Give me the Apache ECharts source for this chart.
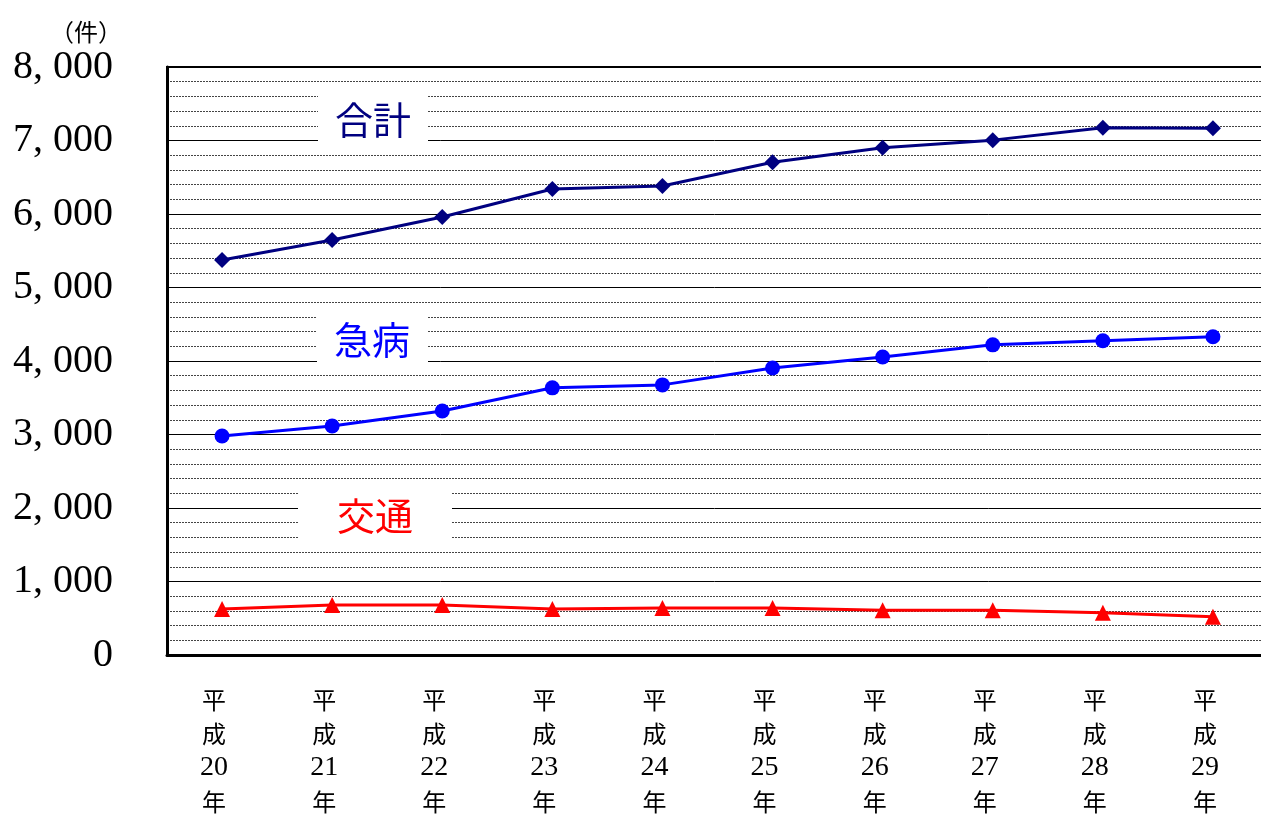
<!DOCTYPE html>
<html><head><meta charset="utf-8">
<script src="https://cdn.jsdelivr.net/npm/echarts@6/dist/echarts.min.js"></script>
<style>html,body{margin:0;padding:0;background:#fff;overflow:hidden}#c{width:1261px;height:814px}</style>
</head><body><div id="c"></div>
<script>
const years = ['20','21','22','23','24','25','26','27','28','29'];
const totalValues = [5375, 5645, 5960, 6340, 6380, 6705, 6900, 7005, 7175, 7165];
const illnessValues = [2980, 3115, 3320, 3635, 3675, 3905, 4055, 4220, 4275, 4330];
const trafficValues = [625, 680, 680, 625, 640, 640, 610, 610, 575, 520];
const seriesNames = ['合計', '急病', '交通'];
const yTicks = [0, 1000, 2000, 3000, 4000, 5000, 6000, 7000, 8000];

const serif = "'Liberation Serif','Noto Sans CJK JP',serif";
const chart = echarts.init(document.getElementById('c'));

function fmt(v){
  if (v === 0) return '0';
  const s = String(v);
  return s.slice(0, s.length-3) + ', ' + s.slice(-3);
}

const option = {
  animation: false,
  backgroundColor: '#fff',
  grid: { left: 167, top: 67, width: 1101, height: 588, outerBoundsMode: 'none', containLabel: false,
          show: true, borderColor: '#000', borderWidth: 2, backgroundColor: 'transparent' },
  xAxis: {
    type: 'category',
    data: years,
    boundaryGap: true,
    axisLine: { lineStyle: { color: '#000', width: 3 } },
    axisTick: { show: false },
    axisLabel: {
      formatter: v => '{c|平}\n{c|成}\n{n|' + v + '}\n{c|年}',
      color: '#000', margin: 28, padding: [0, 16, 0, 0],
      rich: {
        c: { fontFamily: "'Noto Sans CJK JP'", fontSize: 24, lineHeight: 34, color: '#000' },
        n: { fontFamily: "'Liberation Serif'", fontSize: 28, lineHeight: 34, color: '#000' }
      }
    }
  },
  yAxis: {
    type: 'value',
    min: yTicks[0], max: yTicks[yTicks.length-1], interval: 1000,
    axisLine: { show: true, lineStyle: { color: '#000', width: 3 } },
    axisTick: { show: false },
    axisLabel: { formatter: fmt, fontFamily: serif, fontSize: 40, color: '#000', margin: 54 },
    splitLine: { show: true, lineStyle: { color: '#000', width: 1 } },
    minorTick: { show: false, splitNumber: 5 },
    minorSplitLine: { show: true, lineStyle: { color: '#444', width: 1, type: [2, 1] } }
  },
  graphic: [
    { type: 'text', left: 50, top: 20, z: 100, style: { text: '（件）', font: "24px 'Noto Sans CJK JP'", fill: '#000' } },
    { type: 'group', left: 318, top: 95, z: 100, children: [
      { type: 'rect', z: 100, shape: { x: 0, y: 0, width: 110, height: 50 }, style: { fill: '#fff' } },
      { type: 'text', z: 101, style: { x: 55, y: 25, text: seriesNames[0], font: "38px 'Noto Sans CJK JP'", fill: '#000080', align: 'center', verticalAlign: 'middle' } }
    ]},
    { type: 'group', left: 317, top: 316, z: 100, children: [
      { type: 'rect', z: 100, shape: { x: 0, y: 0, width: 111, height: 48 }, style: { fill: '#fff' } },
      { type: 'text', z: 101, style: { x: 55, y: 24, text: seriesNames[1], font: "38px 'Noto Sans CJK JP'", fill: '#0000ff', align: 'center', verticalAlign: 'middle' } }
    ]},
    { type: 'group', left: 298, top: 490, z: 100, children: [
      { type: 'rect', z: 100, shape: { x: 0, y: 0, width: 154, height: 52 }, style: { fill: '#fff' } },
      { type: 'text', z: 101, style: { x: 77, y: 26, text: seriesNames[2], font: "38px 'Noto Sans CJK JP'", fill: '#ff0000', align: 'center', verticalAlign: 'middle' } }
    ]}
  ],
  series: [
    { name: seriesNames[0], type: 'line', data: totalValues, symbol: 'diamond', symbolSize: 16,
      lineStyle: { color: '#000080', width: 3 }, itemStyle: { color: '#000080' } },
    { name: seriesNames[1], type: 'line', data: illnessValues, symbol: 'circle', symbolSize: 15,
      lineStyle: { color: '#0000ff', width: 3 }, itemStyle: { color: '#0000ff' } },
    { name: seriesNames[2], type: 'line', data: trafficValues, symbol: 'triangle', symbolSize: 16,
      lineStyle: { color: '#ff0000', width: 3 }, itemStyle: { color: '#ff0000' } }
  ]
};
chart.setOption(option);
</script></body></html>
